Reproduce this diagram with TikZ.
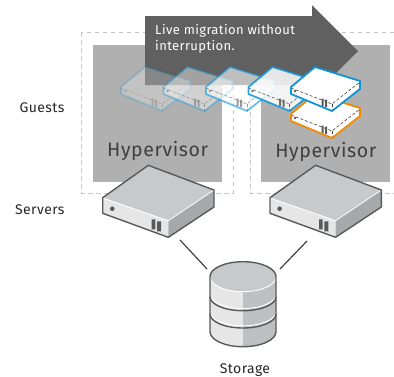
\documentclass[tikz,border=0pt]{standalone}
\usepackage{fontspec}
\setmainfont{Fira Sans}
\newfontfamily\diagfont[LetterSpace=3]{Fira Sans}
\definecolor{boxgray}{HTML}{B0B0B0}
\definecolor{arrowgray}{HTML}{606060}
\definecolor{edgegray}{HTML}{58595B}
\definecolor{topgray}{HTML}{C8C9CB}
\definecolor{frontgray}{HTML}{E6E6E6}
\definecolor{sidegray}{HTML}{A7A8AA}
\definecolor{diskgray}{HTML}{BEBFC1}
\definecolor{guestblue}{HTML}{0F94D6}
\definecolor{guestorange}{HTML}{F08A00}
\definecolor{linkgray}{HTML}{404040}
\begin{document}
\begin{tikzpicture}
    [x=1pt,y=-1pt,
        hostframe/.style={draw=black!22,line width=1pt,dash pattern=on 4.5pt off 3.5pt},
        hostbox/.style={fill=boxgray},
        sidelabel/.style={text=black!85,anchor=base,font=\diagfont\fontsize{14}{16}\selectfont},
        hyper/.style={text=black!75,anchor=base,font=\diagfont\fontsize{19.5}{20}\selectfont},
        movetext/.style={anchor=base west,text=white,inner sep=0pt,font=\diagfont\fontsize{13}{16}\selectfont},
        link/.style={draw=linkgray,line width=1.2pt},
        rim/.style={draw=edgegray,line width=1.4pt,line join=round},
        % one small guest, #1 = outline colour, #2 = opacity
        pics/guest/.style 2 args={code={
            \fill[white,opacity=#2] (0,0) -- (24,-20) -- (69,-6) -- (69,2) -- (41,24) -- (0,7) -- cycle;
            \draw[black!75,densely dashed,line width=0.6pt,opacity=#2] (0,1) -- (41,17) -- (69,-5);
            \draw[black!75,densely dashed,line width=0.6pt,opacity=#2] (41,17) -- (41,24);
            \fill[black!65,opacity=#2] (4,4) circle (1.3);
            \fill[black!65,opacity=#2] (30.5,11.5) rectangle (32.5,19) (34,12.5) rectangle (36,20);
            \draw[#1,line width=1.8pt,line join=round,opacity=#2] (0,0) -- (24,-20) -- (69,-6) -- (69,2) -- (41,24) -- (0,7) -- cycle;
        }},
        % one server, origin at its left top corner
        pics/server/.style={code={
            \fill[topgray] (0,0) -- (45.6,-32.4) -- (111.3,-7.7) -- (65.6,23) -- cycle;
            \fill[frontgray] (0,0) -- (65.6,23) -- (65.6,39.6) -- (0,15.6) -- cycle;
            \fill[sidegray] (65.6,23) -- (111.3,-7.7) -- (111.3,9.3) -- (65.6,39.6) -- cycle;
            \draw[white,line width=0.8pt] (0.5,0.5) -- (65.6,23) -- (111,-7.5);
            \draw[rim] (0,0) -- (45.6,-32.4) -- (111.3,-7.7) -- (111.3,9.3) -- (65.6,39.6) -- (0,15.6) -- cycle;
            \fill[edgegray] (9.6,11) circle (2.3);
            \fill[edgegray] (49,21.6) rectangle (52.6,31.6) (54.3,23.6) rectangle (58.3,33.6);
        }},
    ]
    \useasboundingbox (0,0) rectangle (394,376);
    % frames and hypervisors
    \draw[hostframe] (394,32) -- (250,32) -- (250,193) -- (394,193);
    \draw[hostframe] (81,32) rectangle (233,193);
    \fill[hostbox] (93,45) rectangle (222,182);
    \fill[hostbox] (261,45) rectangle (390,182);
    \node[hyper] (hyperleft) at (157.7,156) {Hypervisor};
    \node[hyper] (hyperright) at (325.8,157) {Hypervisor};
    % migration arrow
    \fill[arrowgray] (145,16) -- (312,16) -- (312,5) -- (358,51) -- (312,97) -- (312,85) -- (145,85) -- cycle;
    \node[movetext] (migrationa) at (155,34) {Live migration without};
    \node[movetext] (migrationb) at (155,50) {interruption.};
    % guests
    \foreach \gx/\gop in {121/0.25,163.5/0.42,206/0.6,248.5/0.85}
        \pic at (\gx,87) {guest={guestblue}{\gop}};
    \pic at (291,114) {guest={guestorange}{1}};
    \pic at (291,87) {guest={guestblue}{1}};
    % servers
    \pic at (102.7,197.7) {server};
    \pic at (270,197.7) {server};
    % storage
    \coordinate (serverleft) at (180,240);
    \coordinate (serverright) at (307,241);
    \coordinate (storageleft) at (207,269);
    \coordinate (storageright) at (280,269);
    \draw[link] (serverleft) -- (storageleft);
    \draw[link] (serverright) -- (storageright);
    \fill[frontgray] (210,276.7) -- (210,331.7) arc[start angle=180,end angle=0,x radius=33,y radius=15] -- (276,276.7) -- cycle;
    \fill[diskgray] (243,276.7) -- (243,346.7) arc[start angle=90,end angle=0,x radius=33,y radius=15] -- (276,276.7) -- cycle;
    \fill[topgray] (243,276.7) ellipse[x radius=33,y radius=15];
    \draw[white,line width=0.9pt] (210,276.7) arc[start angle=180,end angle=0,x radius=33,y radius=15];
    \draw[white,line width=0.9pt] (210,294.5) arc[start angle=180,end angle=0,x radius=33,y radius=14];
    \draw[white,line width=0.9pt] (210,311.8) arc[start angle=180,end angle=0,x radius=33,y radius=14];
    \draw[rim] (210,296.7) arc[start angle=180,end angle=0,x radius=33,y radius=14];
    \draw[rim] (210,314) arc[start angle=180,end angle=0,x radius=33,y radius=14];
    \draw[rim] (210,331.7) -- (210,276.7) arc[start angle=180,end angle=360,x radius=33,y radius=15] -- (276,331.7) arc[start angle=0,end angle=180,x radius=33,y radius=15];
    % labels
    \node[sidelabel,anchor=base east] (guests) at (68,112) {Guests};
    \node[sidelabel,anchor=base east] (servers) at (68,214) {Servers};
    \node[sidelabel] (storage) at (245,373) {Storage};
\end{tikzpicture}
\end{document}
